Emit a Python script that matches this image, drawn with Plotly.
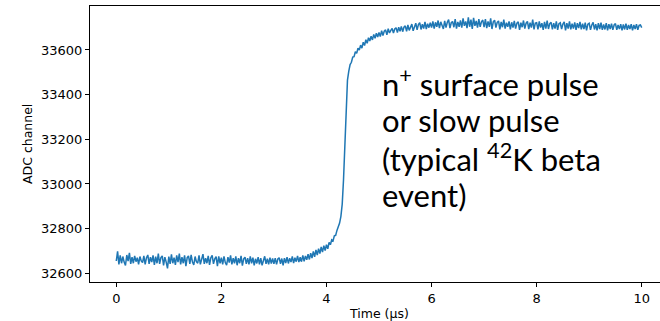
import plotly.graph_objects as go

# sample grid: 0 .. 10 us, step 0.025 us
time_us = [round(i * 0.025, 3) for i in range(401)]

baseline = [
    32655, 32698, 32640, 32680, 32645, 32675, 32650, 32635, 32682, 32655,
    32692, 32642, 32672, 32645, 32678, 32652, 32670, 32640, 32675, 32655,
    32648, 32678, 32640, 32670, 32682, 32642, 32672, 32650, 32680, 32638,
    32675, 32645, 32688, 32642, 32670, 32678, 32635, 32672, 32650, 32622,
    32675, 32642, 32685, 32645, 32670, 32638, 32680, 32650, 32688, 32640,
    32672, 32645, 32680, 32632, 32670, 32678, 32642, 32682, 32650, 32638,
    32675, 32652, 32645, 32680, 32640, 32670, 32686, 32642, 32668, 32645,
    32678, 32638, 32670, 32680, 32642, 32665, 32675, 32632, 32676, 32645,
    32670, 32640, 32676, 32648, 32636, 32672, 32648, 32680, 32640, 32668,
    32645, 32676, 32636, 32668, 32645, 32678, 32634, 32665, 32672, 32642,
    32668, 32640, 32676, 32645, 32670, 32636, 32665, 32644, 32672, 32640,
    32668, 32636, 32662, 32676, 32642, 32665, 32640, 32670, 32644, 32666,
    32642, 32668, 32640, 32664, 32670, 32642, 32666, 32636, 32668, 32646,
    32672, 32644, 32668, 32650, 32676, 32646, 32670, 32652, 32678, 32650,
]
pre_rise = [
    32672, 32652, 32680, 32654, 32678, 32660, 32686, 32662, 32690, 32668,
    32698, 32674, 32705, 32682, 32710, 32688, 32718, 32695, 32724, 32702,
    32728, 32710, 32738, 32728, 32750, 32745, 32768, 32770, 32792, 32805,
]
rise = [
    32825, 32855, 32910, 33020, 33160, 33330, 33465, 33505, 33535, 33545,
    33568, 33570, 33592, 33585, 33608, 33600, 33622, 33608, 33635, 33620,
    33646, 33630, 33655, 33640, 33662, 33645, 33670, 33652, 33675, 33658,
]
plateau = [
    33678, 33660, 33686, 33665, 33684, 33690, 33668, 33695, 33676, 33688,
    33696, 33676, 33694, 33700, 33678, 33702, 33684, 33706, 33682, 33702,
    33708, 33684, 33712, 33688, 33706, 33716, 33686, 33710, 33720, 33690,
    33714, 33722, 33692, 33716, 33696, 33726, 33694, 33718, 33700, 33722,
    33700, 33728, 33696, 33724, 33704, 33732, 33698, 33726, 33706, 33694,
    33730, 33700, 33724, 33736, 33698, 33722, 33728, 33702, 33738, 33696,
    33726, 33704, 33732, 33700, 33742, 33708, 33728, 33698, 33746, 33704,
    33736, 33694, 33744, 33708, 33730, 33700, 33738, 33704, 33726, 33734,
    33702, 33738, 33698, 33728, 33704, 33742, 33694, 33726, 33734, 33700,
    33724, 33730, 33692, 33726, 33702, 33736, 33696, 33722, 33704, 33728,
    33692, 33724, 33700, 33730, 33696, 33720, 33726, 33690, 33722, 33702,
    33732, 33696, 33720, 33728, 33694, 33722, 33700, 33736, 33692, 33720,
    33722, 33692, 33728, 33700, 33720, 33690, 33726, 33696, 33732, 33694,
    33718, 33724, 33692, 33720, 33696, 33728, 33690, 33718, 33722, 33694,
    33716, 33726, 33688, 33720, 33696, 33728, 33692, 33718, 33696, 33724,
    33690, 33720, 33698, 33726, 33692, 33718, 33694, 33722, 33688, 33716,
    33720, 33690, 33712, 33724, 33692, 33716, 33688, 33720, 33694, 33722,
    33690, 33714, 33692, 33720, 33688, 33716, 33694, 33718, 33690, 33712,
    33718, 33690, 33712, 33694, 33716, 33688, 33714, 33692, 33718, 33690,
    33712, 33694, 33716, 33688, 33712, 33694, 33716, 33690, 33710, 33712,
    33700,
]
adc_values = baseline + pre_rise + rise + plateau

x_ticks = [0, 2, 4, 6, 8, 10]
y_ticks = [32600, 32800, 33000, 33200, 33400, 33600]
note_lines = ["n<sup>+</sup> surface pulse", "or slow pulse",
              "(typical <sup>42</sup>K beta", "event)"]

# figure is slightly wider than the 660px window: its right edge is cropped
W, H = 668, 321
L, R, T, B = 90, 0, 6, 39
pw, ph = W - L - R, H - T - B


def px(x):
    return (x - L) / pw


def py(y):
    return 1 - (y - T) / ph


fig = go.Figure()
fig.add_trace(go.Scatter(x=time_us, y=adc_values, mode="lines",
                         line=dict(color="#1f77b4", width=1.5),
                         showlegend=False, hoverinfo="skip"))

tick_font = dict(family="DejaVu Sans", size=13, color="black")
annotations = [
    dict(text="ADC channel", xref="paper", yref="paper", x=px(27), y=0.5,
         textangle=-90, showarrow=False, xanchor="center", yanchor="middle",
         font=dict(family="DejaVu Sans", size=12.5, color="black")),
    dict(text="Time (µs)", xref="paper", yref="paper", x=px(379), y=py(313),
         showarrow=False, xanchor="center", yanchor="middle",
         font=dict(family="DejaVu Sans", size=12.5, color="black")),
]
for line_text, ymid in zip(note_lines, [82, 120, 157.5, 195]):
    annotations.append(dict(text=line_text, xref="paper", yref="paper",
                            x=px(380), y=py(ymid), align="left", showarrow=False,
                            xanchor="left", yanchor="middle",
                            font=dict(family="Lato", size=31, color="black")))

fig.update_layout(
    width=W, height=H,
    margin=dict(l=L, r=R, t=T, b=B),
    paper_bgcolor="white", plot_bgcolor="white",
    xaxis=dict(range=[-0.5, 10.5], tickvals=x_ticks, ticks="outside",
               ticklen=4, tickwidth=1, tickcolor="black",
               showline=True, linecolor="black", linewidth=1, mirror=True,
               showgrid=False, zeroline=False, tickfont=tick_font),
    yaxis=dict(range=[32561, 33797], tickvals=y_ticks, ticks="outside",
               ticklen=4, tickwidth=1, tickcolor="black",
               showline=True, linecolor="black", linewidth=1,
               showgrid=False, zeroline=False, tickfont=tick_font,
               tickformat="d"),
    annotations=annotations,
)
fig.write_html("out.html", config={"displayModeBar": False},
               post_script="document.body.style.margin='0';"
                           "document.body.style.overflow='hidden';")
